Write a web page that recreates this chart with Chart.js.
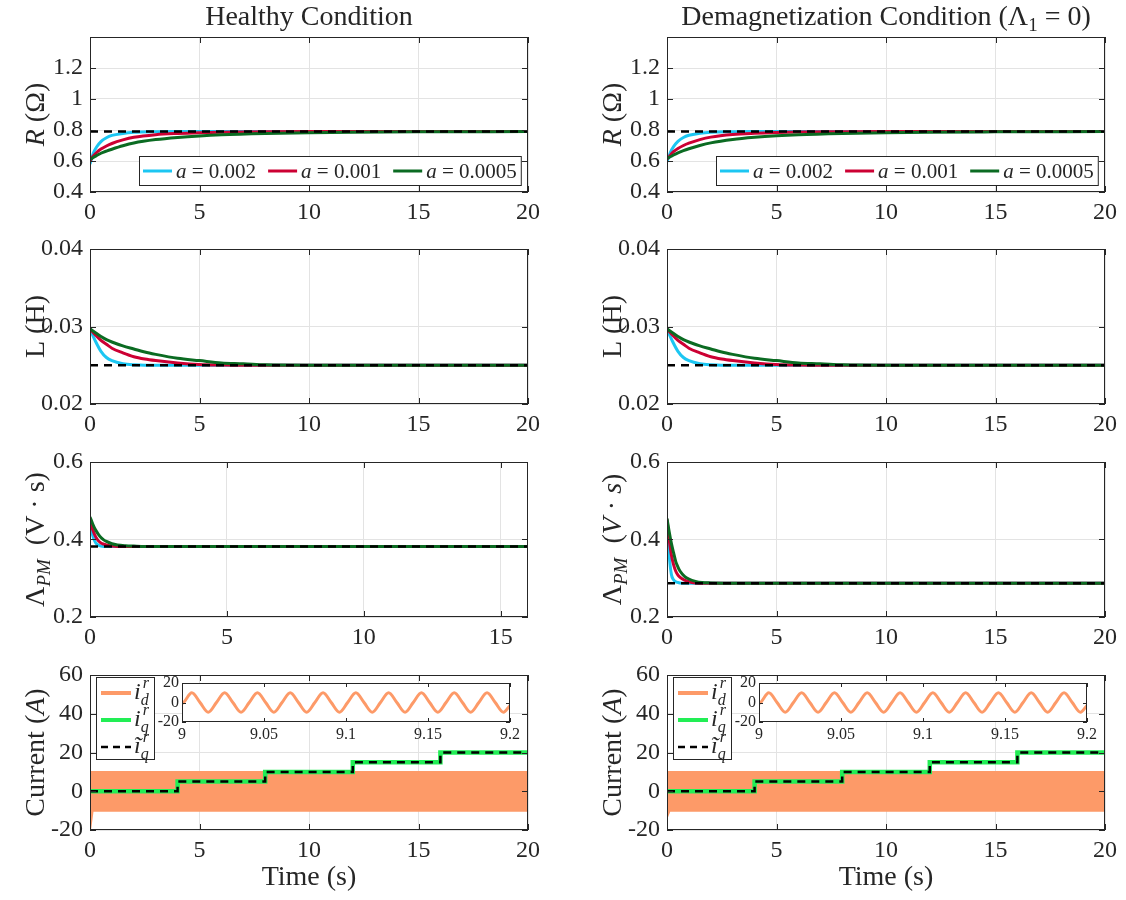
<!DOCTYPE html>
<html>
<head>
<meta charset="utf-8">
<title>Parameter estimation - healthy vs demagnetization</title>
<script src="https://cdn.jsdelivr.net/npm/chart.js@4.4.1/dist/chart.umd.min.js"></script>
<style>
  html, body { margin: 0; background: #fff; }
  #fig { position: relative; width: 1126px; height: 900px; overflow: hidden; }
  #fig canvas { position: absolute; }
</style>
</head>
<body>
<div id="fig"></div>
<script>
// ---------- values ----------

// resistance estimate R (ohm)
const tR = [0, 0.05, 0.15, 0.3, 0.5, 0.75, 1, 1.5, 2, 3, 4, 5, 6, 8, 10, 12, 15, 20];
const rHealthy_002  = [0.58, 0.605, 0.65, 0.69, 0.725, 0.75, 0.765, 0.778, 0.785, 0.789, 0.79, 0.79, 0.79, 0.79, 0.79, 0.79, 0.79, 0.79];
const rHealthy_001  = [0.60, 0.612, 0.632, 0.655, 0.677, 0.697, 0.713, 0.736, 0.753, 0.770, 0.778, 0.783, 0.786, 0.789, 0.79, 0.79, 0.79, 0.79];
const rHealthy_0005 = [0.61, 0.614, 0.623, 0.635, 0.65, 0.664, 0.676, 0.698, 0.716, 0.738, 0.752, 0.762, 0.769, 0.777, 0.782, 0.785, 0.788, 0.79];
const rDemag_002    = [0.595, 0.615, 0.655, 0.693, 0.727, 0.752, 0.766, 0.779, 0.786, 0.789, 0.79, 0.79, 0.79, 0.79, 0.79, 0.79, 0.79, 0.79];
const rDemag_001    = [0.612, 0.62, 0.638, 0.66, 0.681, 0.7, 0.715, 0.738, 0.754, 0.771, 0.779, 0.784, 0.787, 0.789, 0.79, 0.79, 0.79, 0.79];
const rDemag_0005   = [0.615, 0.619, 0.627, 0.639, 0.653, 0.667, 0.679, 0.7, 0.717, 0.739, 0.753, 0.763, 0.77, 0.778, 0.783, 0.786, 0.788, 0.79];
const rTrue = [0.79, 0.79];

// inductance estimate L (H)
const tL = [0, 0.25, 0.5, 0.75, 1, 1.5, 2, 2.5, 3, 4, 5, 6, 7, 8, 10, 15, 20];
const lHealthy_002  = [0.0297, 0.0281, 0.0268, 0.0260, 0.0256, 0.0252, 0.02505, 0.0250, 0.0250, 0.0250, 0.0250, 0.0250, 0.0250, 0.0250, 0.0250, 0.0250, 0.0250];
const lHealthy_001  = [0.0297, 0.0289, 0.0282, 0.0277, 0.0272, 0.0266, 0.0261, 0.0258, 0.0256, 0.0253, 0.0251, 0.02503, 0.0250, 0.0250, 0.0250, 0.0250, 0.0250];
const lHealthy_0005 = [0.0297, 0.0292, 0.0287, 0.0283, 0.0280, 0.0275, 0.0271, 0.0267, 0.0264, 0.0259, 0.0256, 0.0253, 0.0252, 0.02505, 0.0250, 0.0250, 0.0250];
const lDemag_002    = [0.0297, 0.0281, 0.0268, 0.0260, 0.0256, 0.0252, 0.02505, 0.0250, 0.0250, 0.0250, 0.0250, 0.0250, 0.0250, 0.0250, 0.0250, 0.0250, 0.0250];
const lDemag_001    = [0.0297, 0.0289, 0.0282, 0.0277, 0.0272, 0.0266, 0.0261, 0.0258, 0.0256, 0.0253, 0.0251, 0.02503, 0.0250, 0.0250, 0.0250, 0.0250, 0.0250];
const lDemag_0005   = [0.0297, 0.0292, 0.0287, 0.0283, 0.0280, 0.0275, 0.0271, 0.0267, 0.0264, 0.0259, 0.0256, 0.0253, 0.0252, 0.02505, 0.0250, 0.0250, 0.0250];
const lTrue = [0.025, 0.025];

// PM flux linkage estimate (V.s)
const tLamH = [0, 0.1, 0.2, 0.3, 0.4, 0.5, 0.6, 0.8, 1, 1.3, 1.6, 2, 3, 5, 16];
const lamHealthy_002  = [0.44, 0.41, 0.392, 0.386, 0.383, 0.382, 0.382, 0.382, 0.382, 0.382, 0.382, 0.382, 0.382, 0.382, 0.382];
const lamHealthy_001  = [0.45, 0.425, 0.408, 0.397, 0.391, 0.388, 0.386, 0.383, 0.382, 0.382, 0.382, 0.382, 0.382, 0.382, 0.382];
const lamHealthy_0005 = [0.458, 0.44, 0.425, 0.414, 0.405, 0.399, 0.395, 0.389, 0.386, 0.384, 0.383, 0.382, 0.382, 0.382, 0.382];
const lamHealthyTrue = [0.382, 0.382];
const tLamD = [0, 0.1, 0.2, 0.3, 0.4, 0.5, 0.6, 0.8, 1, 1.3, 1.6, 2, 3, 5, 20];
const lamDemag_002  = [0.45, 0.36, 0.31, 0.296, 0.291, 0.289, 0.288, 0.287, 0.287, 0.287, 0.287, 0.287, 0.287, 0.287, 0.287];
const lamDemag_001  = [0.452, 0.40, 0.36, 0.335, 0.318, 0.308, 0.302, 0.295, 0.291, 0.288, 0.287, 0.287, 0.287, 0.287, 0.287];
const lamDemag_0005 = [0.454, 0.42, 0.39, 0.366, 0.343, 0.329, 0.318, 0.305, 0.298, 0.292, 0.289, 0.288, 0.287, 0.287, 0.287];
const lamDemagTrue = [0.287, 0.287];

// currents (A)
const tStep = [0, 4, 8, 12, 16, 20];
const iqMeasured = [0, 5, 10, 15, 20, 20];
const iqReference = [0, 5, 10, 15, 20, 20];
const idUpperT = [0, 20];
const idUpper = [10, 10];
const idLowerT = [0, 0.05, 0.12, 20];
const idLowerHealthy = [-10, -16, -10, -10];
const idLowerDemag = [-10, -12, -10, -10];

// zoomed i_d between 9 s and 9.2 s
const insetT = [9.000, 9.001, 9.006, 9.011, 9.016, 9.021, 9.026, 9.031, 9.036, 9.041, 9.046, 9.051, 9.056, 9.061,
  9.066, 9.071, 9.076, 9.081, 9.086, 9.091, 9.096, 9.101, 9.106, 9.111, 9.116, 9.121, 9.126, 9.131, 9.136, 9.141,
  9.146, 9.151, 9.156, 9.161, 9.166, 9.171, 9.176, 9.181, 9.186, 9.191, 9.196, 9.200];
const insetId = [-1, 0, 10, 0, -10, 0, 10, 0, -10, 0, 10, 0, -10, 0, 10, 0, -10, 0, 10, 0, -10, 0,
  10, 0, -10, 0, 10, 0, -10, 0, 10, 0, -10, 0, 10, 0, -10, 0, 10, 0, -10, -3];

// tick labels
const xTicks20 = [0, 5, 10, 15, 20];
const xTicks16 = [0, 5, 10, 15];
const yTicksR = [0.4, 0.6, 0.8, 1, 1.2];
const yTicksL = [0.02, 0.03, 0.04];
const yTicksLam = [0.2, 0.4, 0.6];
const yTicksI = [-20, 0, 20, 40, 60];
const insetXTicks = [9, 9.05, 9.1, 9.15, 9.2];
const insetYTicks = [-20, 0, 20];

// ---------- styling ----------
const FONT = '"Liberation Serif", "Times New Roman", serif';
const INK = '#262626';
const GRID = '#e3e3e3';
const C_002 = '#1cc6f2';
const C_001 = '#cc0033';
const C_0005 = '#0b6b22';
const C_ID = '#fd9a68';
const C_IQ = '#22ee55';

const PLOT_TOP = [37, 249, 462, 675];
const PLOT_H = 155, PLOT_W = 438, Y_W = 90, PAD_R = 20;
const COL_LEFT = [90, 667];

const fig = document.getElementById('fig');

function makeCanvas(left, top, w, h) {
  const c = document.createElement('canvas');
  c.width = w; c.height = h;
  c.style.left = left + 'px'; c.style.top = top + 'px';
  c.style.width = w + 'px'; c.style.height = h + 'px';
  fig.appendChild(c);
  return c;
}

function fmt(v) { return String(Math.round(v * 1e6) / 1e6); }

// draw a line of text made of pieces (italic, sub/superscripts)
function drawRich(ctx, segs, x, y, size, rotate, align) {
  ctx.save();
  ctx.translate(x, y);
  if (rotate) ctx.rotate(-Math.PI / 2);
  ctx.textBaseline = 'alphabetic';
  ctx.textAlign = 'left';
  let total = 0;
  const parts = segs.map(s => {
    const font = (s.it ? 'italic ' : '') + (s.sz || size) + 'px ' + FONT;
    ctx.font = font;
    const w = ctx.measureText(s.t).width;
    const adv = s.keep ? 0 : w;
    total += adv;
    return { s, font, adv };
  });
  let cx = align === 'left' ? 0 : -total / 2;
  parts.forEach(p => {
    ctx.font = p.font;
    ctx.fillStyle = INK;
    ctx.fillText(p.s.t, cx + (p.s.dx || 0), p.s.dy || 0);
    cx += p.adv;
  });
  ctx.restore();
  return total;
}

function richWidth(ctx, segs, size) {
  let total = 0;
  segs.forEach(s => {
    ctx.font = (s.it ? 'italic ' : '') + (s.sz || size) + 'px ' + FONT;
    if (!s.keep) total += ctx.measureText(s.t).width;
  });
  return total;
}

function series(xs, ys, color, more) {
  return Object.assign({
    data: xs.map((x, i) => ({ x: x, y: ys[i] })),
    borderColor: color,
    backgroundColor: color,
    borderWidth: 3,
    pointRadius: 0,
    fill: false,
    cubicInterpolationMode: 'monotone'
  }, more || {});
}

function refLine(xs, ys, more) {
  return series(xs, ys, '#000', Object.assign({ borderWidth: 2.5, borderDash: [8, 6], cubicInterpolationMode: 'default' }, more || {}));
}

// box, inward ticks, labels and legends in the MATLAB look
function deco(spec) {
  return {
    id: 'deco',
    beforeDraw(chart) {
      if (!spec.whiteBox) return;
      const a = chart.chartArea, ctx = chart.ctx;
      ctx.save();
      ctx.fillStyle = '#fff';
      ctx.fillRect(a.left, a.top, a.right - a.left, a.bottom - a.top);
      ctx.restore();
    },
    afterDraw(chart) {
      const ctx = chart.ctx, a = chart.chartArea;
      const xs = chart.scales.x, ys = chart.scales.y;
      const tl = spec.tickLen || 6;
      ctx.save();
      ctx.strokeStyle = INK;
      ctx.lineWidth = 1;
      ctx.beginPath();
      xs.ticks.forEach(t => {
        const px = Math.round(xs.getPixelForValue(t.value)) + 0.5;
        ctx.moveTo(px, a.bottom); ctx.lineTo(px, a.bottom - tl);
        ctx.moveTo(px, a.top); ctx.lineTo(px, a.top + tl);
      });
      ys.ticks.forEach(t => {
        const py = Math.round(ys.getPixelForValue(t.value)) + 0.5;
        ctx.moveTo(a.left, py); ctx.lineTo(a.left + tl, py);
        ctx.moveTo(a.right, py); ctx.lineTo(a.right - tl, py);
      });
      ctx.stroke();
      ctx.strokeRect(Math.round(a.left) + 0.5, Math.round(a.top) + 0.5,
        Math.round(a.right - a.left) - 1, Math.round(a.bottom - a.top) - 1);

      if (spec.ylabel) drawRich(ctx, spec.ylabel, 44, (a.top + a.bottom) / 2, 28, true);
      if (spec.title) drawRich(ctx, spec.title, (a.left + a.right) / 2, 25, 28, false);
      if (spec.xlabel) drawRich(ctx, spec.xlabel, (a.left + a.right) / 2, spec.xlabelY, 28, false);

      if (spec.legendA) {
        const size = 21;
        let w = 8;
        spec.legendA.forEach((it, i) => { w += 33 + richWidth(ctx, it.segs, size) + (i ? 12 : 0); });
        const h = 29;
        const bx = Math.round(a.right - 7 - w), by = Math.round(a.bottom - 7 - h);
        ctx.fillStyle = '#fff';
        ctx.fillRect(bx, by, w, h);
        ctx.strokeStyle = INK;
        ctx.strokeRect(bx + 0.5, by + 0.5, w, h);
        let x = bx + 4;
        const cy = by + h / 2 + 0.5;
        spec.legendA.forEach(it => {
          ctx.strokeStyle = it.color;
          ctx.lineWidth = 3;
          ctx.beginPath(); ctx.moveTo(x, cy); ctx.lineTo(x + 29, cy); ctx.stroke();
          x += 33;
          x += drawRich(ctx, it.segs, x, cy + 7, size, false, 'left') + 12;
        });
      }

      if (spec.legendI) {
        const bx = Math.round(a.left + 6), by = Math.round(a.top + 2);
        const w = 58, h = 82;
        ctx.fillStyle = '#fff';
        ctx.fillRect(bx, by, w, h);
        ctx.strokeStyle = INK;
        ctx.lineWidth = 1;
        ctx.strokeRect(bx + 0.5, by + 0.5, w, h);
        spec.legendI.forEach((it, i) => {
          const cy = by + 16 + i * 27;
          ctx.strokeStyle = it.color;
          ctx.lineWidth = it.dash ? 2.5 : 4;
          ctx.setLineDash(it.dash || []);
          ctx.beginPath(); ctx.moveTo(bx + 5, cy); ctx.lineTo(bx + 35, cy); ctx.stroke();
          ctx.setLineDash([]);
          drawRich(ctx, it.segs, bx + 38, cy + 6, 24, false, 'left');
        });
      }
      ctx.restore();
    }
  };
}

function axisOpts(min, max, ticks, size, pad, fit) {
  return {
    type: 'linear',
    min: min,
    max: max,
    afterBuildTicks: s => { s.ticks = ticks.map(v => ({ value: v })); },
    afterFit: fit,
    grid: { color: GRID, drawTicks: false },
    border: { display: false },
    ticks: {
      font: { family: FONT, size: size },
      color: INK,
      padding: pad,
      autoSkip: false,
      maxRotation: 0,
      callback: fmt
    }
  };
}

function panel(p) {
  const padTop = p.row === 0 ? 37 : 26;
  const xH = p.row === 3 ? 64 : 40;
  const w = Y_W + PLOT_W + PAD_R;
  const h = padTop + PLOT_H + xH;
  const top = PLOT_TOP[p.row] - padTop;
  const left = COL_LEFT[p.col] - Y_W;
  const spec = Object.assign({}, p.spec);
  if (spec.xlabel) spec.xlabelY = 885 - top;
  return new Chart(makeCanvas(left, top, w, h), {
    type: 'line',
    data: { datasets: p.datasets },
    options: {
      responsive: false,
      animation: false,
      devicePixelRatio: 1,
      layout: { padding: { top: padTop, right: PAD_R, left: 0, bottom: 0 } },
      plugins: { legend: { display: false }, tooltip: { enabled: false }, title: { display: false } },
      scales: {
        x: axisOpts(0, p.xMax, p.xTicks, 24, 6, s => { s.height = xH; }),
        y: axisOpts(p.yMin, p.yMax, p.yTicks, 24, 7, s => { s.width = Y_W; })
      }
    },
    plugins: [deco(spec)]
  });
}

function inset(col) {
  const padTop = 16;
  const left = COL_LEFT[col] + 92 - 40;
  const top = 683 - padTop;
  const w = 40 + 328 + 22, h = padTop + 39 + 29;
  return new Chart(makeCanvas(left, top, w, h), {
    type: 'line',
    data: { datasets: [series(insetT, insetId, C_ID, { borderWidth: 3 })] },
    options: {
      responsive: false,
      animation: false,
      devicePixelRatio: 1,
      layout: { padding: { top: padTop, right: 22, left: 0, bottom: 0 } },
      plugins: { legend: { display: false }, tooltip: { enabled: false } },
      scales: {
        x: Object.assign(axisOpts(9, 9.2, insetXTicks, 16, 3, s => { s.height = 29; }), { grid: { display: false, drawTicks: false } }),
        y: Object.assign(axisOpts(-20, 20, insetYTicks, 16, 3, s => { s.width = 40; }), { grid: { display: false, drawTicks: false } })
      }
    },
    plugins: [deco({ whiteBox: true, tickLen: 4 })]
  });
}

// ---------- labels ----------
const titleHealthy = [{ t: 'Healthy Condition' }];
const titleDemag = [{ t: 'Demagnetization Condition (Λ' }, { t: '1', sz: 19, dy: 6 }, { t: ' = 0)' }];
const labelR = [{ t: 'R', it: true }, { t: ' (Ω)' }];
const labelL = [{ t: 'L (H)' }];
const labelLamH = [{ t: 'Λ' }, { t: 'PM', it: true, sz: 19, dy: 6 }, { t: '  (V · s)' }];
const labelLamD = [{ t: 'Λ' }, { t: 'PM', it: true, sz: 19, dy: 6 }, { t: '  (' }, { t: 'V', it: true }, { t: ' · ' }, { t: 's', it: true }, { t: ')' }];
const labelI = [{ t: 'Current (' }, { t: 'A', it: true }, { t: ')' }];
const labelTime = [{ t: 'Time (s)' }];

const legendA = [
  { color: C_002, segs: [{ t: 'a', it: true }, { t: ' = 0.002' }] },
  { color: C_001, segs: [{ t: 'a', it: true }, { t: ' = 0.001' }] },
  { color: C_0005, segs: [{ t: 'a', it: true }, { t: ' = 0.0005' }] }
];
const legendI = [
  { color: C_ID, segs: [{ t: 'i', it: true }, { t: 'r', it: true, sz: 16, dy: -11, dx: 2, keep: true }, { t: 'd', it: true, sz: 16, dy: 6 }] },
  { color: C_IQ, segs: [{ t: 'i', it: true }, { t: 'r', it: true, sz: 16, dy: -11, dx: 2, keep: true }, { t: 'q', it: true, sz: 16, dy: 6 }] },
  { color: '#000', dash: [7, 5], segs: [{ t: 'ĩ', it: true }, { t: 'r', it: true, sz: 16, dy: -11, dx: 2, keep: true }, { t: 'q', it: true, sz: 16, dy: 6 }] }
];

// ---------- build the 2 x 4 grid ----------
const full = [0, 20];

panel({ col: 0, row: 0, xMax: 20, xTicks: xTicks20, yMin: 0.4, yMax: 1.4, yTicks: yTicksR,
  spec: { ylabel: labelR, title: titleHealthy, legendA: legendA },
  datasets: [refLine(full, rTrue), series(tR, rHealthy_0005, C_0005), series(tR, rHealthy_001, C_001), series(tR, rHealthy_002, C_002)] });
panel({ col: 1, row: 0, xMax: 20, xTicks: xTicks20, yMin: 0.4, yMax: 1.4, yTicks: yTicksR,
  spec: { ylabel: labelR, title: titleDemag, legendA: legendA },
  datasets: [refLine(full, rTrue), series(tR, rDemag_0005, C_0005), series(tR, rDemag_001, C_001), series(tR, rDemag_002, C_002)] });

panel({ col: 0, row: 1, xMax: 20, xTicks: xTicks20, yMin: 0.02, yMax: 0.04, yTicks: yTicksL,
  spec: { ylabel: labelL },
  datasets: [refLine(full, lTrue), series(tL, lHealthy_0005, C_0005), series(tL, lHealthy_001, C_001), series(tL, lHealthy_002, C_002)] });
panel({ col: 1, row: 1, xMax: 20, xTicks: xTicks20, yMin: 0.02, yMax: 0.04, yTicks: yTicksL,
  spec: { ylabel: labelL },
  datasets: [refLine(full, lTrue), series(tL, lDemag_0005, C_0005), series(tL, lDemag_001, C_001), series(tL, lDemag_002, C_002)] });

panel({ col: 0, row: 2, xMax: 16, xTicks: xTicks16, yMin: 0.2, yMax: 0.6, yTicks: yTicksLam,
  spec: { ylabel: labelLamH },
  datasets: [refLine([0, 16], lamHealthyTrue), series(tLamH, lamHealthy_0005, C_0005), series(tLamH, lamHealthy_001, C_001), series(tLamH, lamHealthy_002, C_002)] });
panel({ col: 1, row: 2, xMax: 20, xTicks: xTicks20, yMin: 0.2, yMax: 0.6, yTicks: yTicksLam,
  spec: { ylabel: labelLamD },
  datasets: [refLine(full, lamDemagTrue), series(tLamD, lamDemag_0005, C_0005), series(tLamD, lamDemag_001, C_001), series(tLamD, lamDemag_002, C_002)] });

function currentSets(lower) {
  return [
    refLine(tStep, iqReference, { stepped: true }),
    series(tStep, iqMeasured, C_IQ, { borderWidth: 4.5, stepped: true, cubicInterpolationMode: 'default' }),
    series(idUpperT, idUpper, C_ID, { borderWidth: 2, cubicInterpolationMode: 'default' }),
    series(idLowerT, lower, C_ID, { borderWidth: 2, cubicInterpolationMode: 'default', fill: '-1' })
  ];
}
panel({ col: 0, row: 3, xMax: 20, xTicks: xTicks20, yMin: -20, yMax: 60, yTicks: yTicksI,
  spec: { ylabel: labelI, xlabel: labelTime, legendI: legendI }, datasets: currentSets(idLowerHealthy) });
panel({ col: 1, row: 3, xMax: 20, xTicks: xTicks20, yMin: -20, yMax: 60, yTicks: yTicksI,
  spec: { ylabel: labelI, xlabel: labelTime, legendI: legendI }, datasets: currentSets(idLowerDemag) });

inset(0);
inset(1);
</script>
</body>
</html>
